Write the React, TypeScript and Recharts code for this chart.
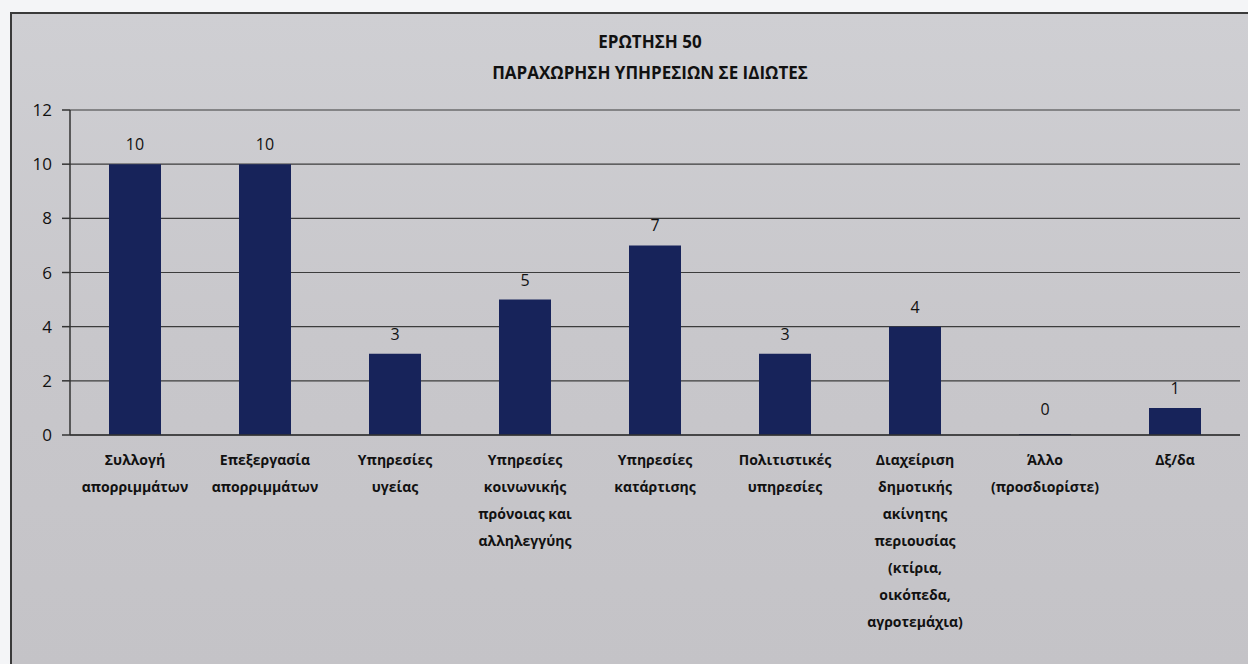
import { BarChart, Bar, XAxis, YAxis, CartesianGrid, LabelList, Customized } from 'recharts'

const categories = [
  ['Συλλογή', 'απορριμμάτων'],
  ['Επεξεργασία', 'απορριμμάτων'],
  ['Υπηρεσίες', 'υγείας'],
  ['Υπηρεσίες', 'κοινωνικής', 'πρόνοιας και', 'αλληλεγγύης'],
  ['Υπηρεσίες', 'κατάρτισης'],
  ['Πολιτιστικές', 'υπηρεσίες'],
  ['Διαχείριση', 'δημοτικής', 'ακίνητης', 'περιουσίας', '(κτίρια,', 'οικόπεδα,', 'αγροτεμάχια)'],
  ['Άλλο', '(προσδιορίστε)'],
  ['Δξ/δα'],
]
const values = [10, 10, 3, 5, 7, 3, 4, 0, 1]
const yTicks = [0, 2, 4, 6, 8, 10, 12]
const titleLines = ['ΕΡΩΤΗΣΗ 50', 'ΠΑΡΑΧΩΡΗΣΗ ΥΠΗΡΕΣΙΩΝ ΣΕ ΙΔΙΩΤΕΣ']

const data = categories.map((lines, i) => ({ name: lines.join(' '), lines, value: values[i] }))

const FONT = '"Open Sans", Arial, sans-serif'

function CategoryTick(props: any) {
  const { x, y, payload } = props
  const lines: string[] = data[payload.index]?.lines ?? [payload.value]
  return (
    <text x={x} y={y + 22} textAnchor="middle" fontFamily={FONT} fontSize={14} fontWeight="bold" fill="#111">
      {lines.map((l, i) => (
        <tspan key={i} x={x} dy={i === 0 ? 0 : 27}>{l}</tspan>
      ))}
    </text>
  )
}

function ValueLabel(props: any) {
  const { x, y, width, height, value } = props
  const top = Math.min(y, y + height)
  const dy = value === 0 ? -19 : -14
  return (
    <text x={x + width / 2} y={top + dy} textAnchor="middle" fontFamily={FONT} fontSize={16} fill="#111">{value}</text>
  )
}

export default function App() {
  return (
    <div style={{ position: 'absolute', left: 0, top: 0, width: 1248, height: 664, background: '#f4f5f7' }}>
      <div style={{ position: 'absolute', left: 10, top: 12, width: 1238, height: 652, borderLeft: '2px solid #3a3a3a', borderTop: '2px solid #3a3a3a', background: 'linear-gradient(180deg, #cfcfd3 0%, #c8c7cb 50%, #c4c3c7 100%)' }} />
      <div style={{ position: 'absolute', left: 0, top: 0 }}>
        <BarChart width={1248} height={664} data={data} margin={{ top: 110, right: 8, left: 0, bottom: 0 }} barCategoryGap="30%">
          <Customized component={() => (
            <g>
              {titleLines.map((t, i) => (
                <text key={i} x={650} y={48 + i * 31} textAnchor="middle" fontFamily={FONT} fontSize={17} fontWeight="bold" fill="#111">{t}</text>
              ))}
            </g>
          )} />
          <CartesianGrid vertical={false} stroke="#3c3c3c" strokeWidth={1.2} />
          <XAxis
            dataKey="name"
            height={229}
            interval={0}
            tick={<CategoryTick />}
            tickLine={false}
            axisLine={{ stroke: '#333', strokeWidth: 1.5 }}
          />
          <YAxis
            width={70}
            domain={[0, 12]}
            ticks={yTicks}
            tickSize={8}
            tickMargin={10}
            tick={{ fontFamily: FONT, fontSize: 17, fill: '#111' }}
            axisLine={{ stroke: '#333', strokeWidth: 1.5 }}
            tickLine={{ stroke: '#333', strokeWidth: 1.5 }}
          />
          <Bar dataKey="value" fill="#17235a" minPointSize={1} isAnimationActive={false}>
            <LabelList dataKey="value" content={<ValueLabel />} />
          </Bar>
          <Customized component={(p: any) => {
            const off = p.offset
            if (!off) return null
            const step = off.width / values.length
            return (
              <g>
                {values.map((_, i) => (
                  <line key={i} x1={off.left + step * (i + 1)} x2={off.left + step * (i + 1)} y1={off.top + off.height} y2={off.top + off.height + 7} stroke="#333" strokeWidth={1.5} />
                ))}
              </g>
            )
          }} />
        </BarChart>
      </div>
    </div>
  )
}
